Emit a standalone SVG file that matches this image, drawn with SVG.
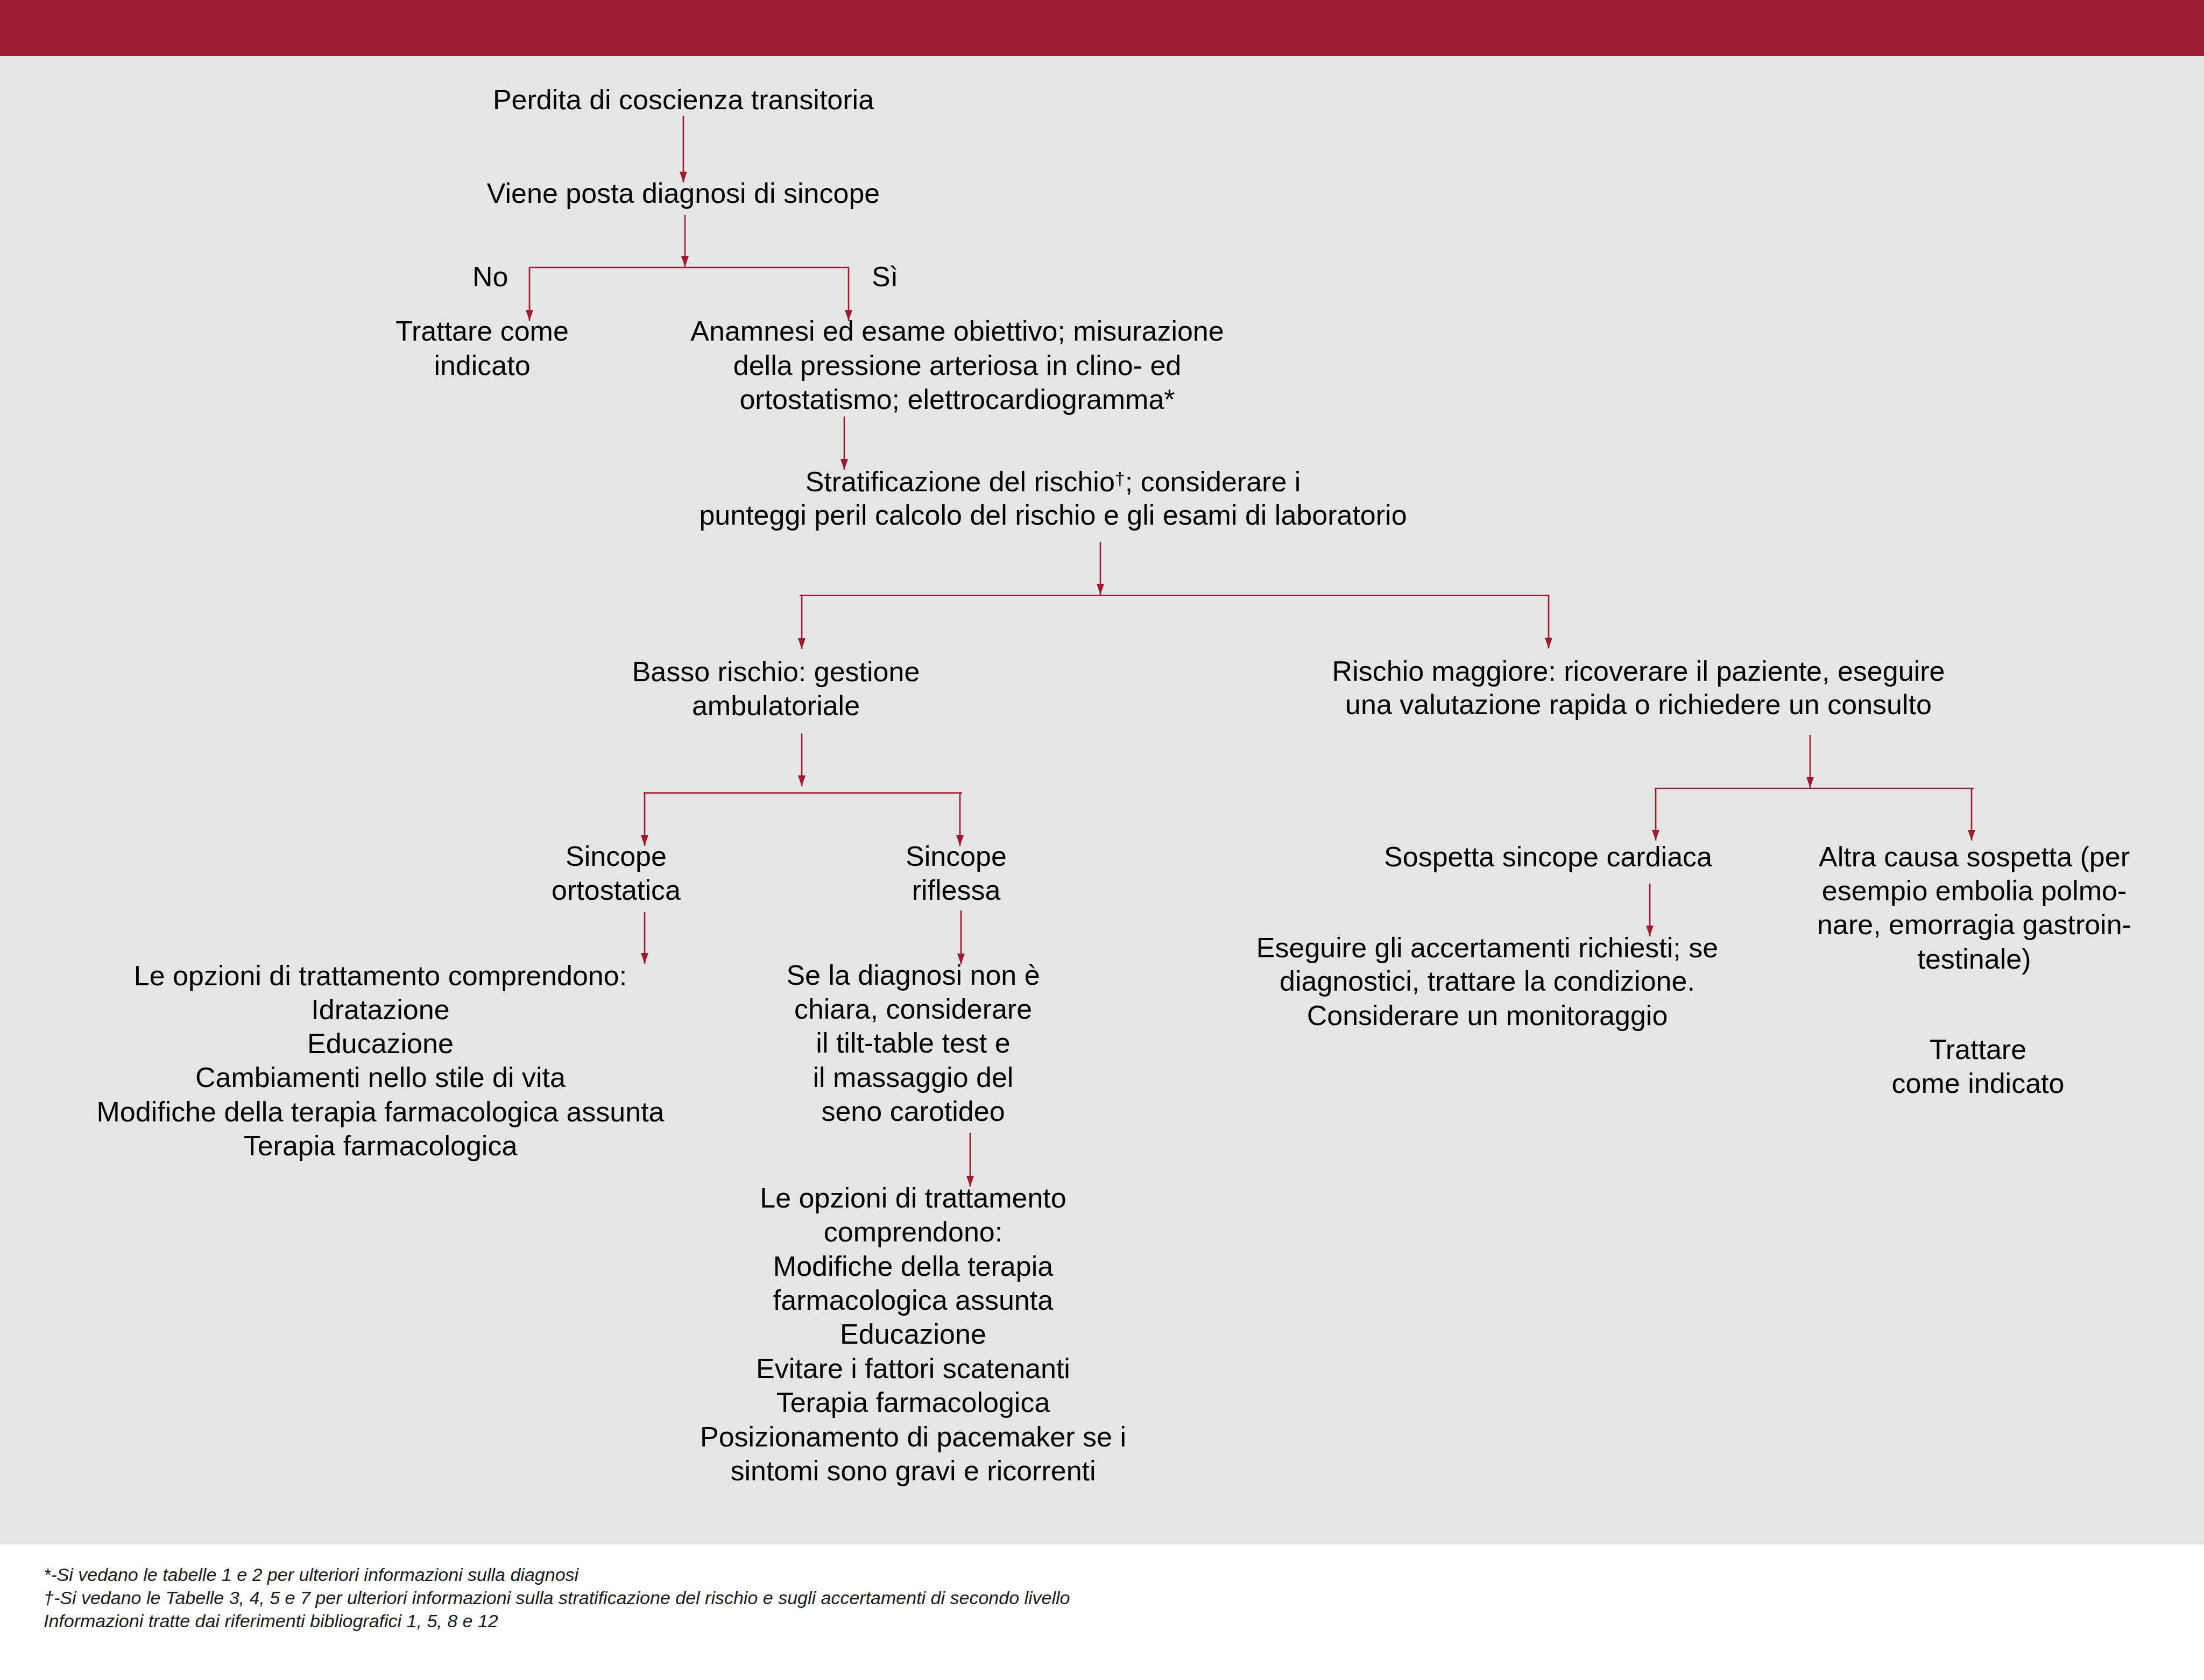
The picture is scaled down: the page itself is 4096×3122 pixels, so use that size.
<svg xmlns="http://www.w3.org/2000/svg" width="4096" height="3122" viewBox="0 0 4096 3122">
<defs>
<marker id="ah" markerUnits="userSpaceOnUse" markerWidth="20" markerHeight="14" viewBox="0 -7 20 14" refX="20" refY="0" orient="auto">
<path d="M0,-7 L20,0 L0,7 z" fill="#9b1c2e"/>
</marker>
<style>
.t{font-family:"Liberation Sans",Arial,sans-serif;font-size:52px;fill:#000;text-anchor:middle}
.ts{font-family:"Liberation Sans",Arial,sans-serif;font-size:52px;fill:#000}
.fn{font-family:"Liberation Sans",Arial,sans-serif;font-size:34px;font-style:italic;fill:#1a1a1a}
.c{stroke:#9b1c2e;stroke-width:2.7;fill:none}
.a{stroke:#9b1c2e;stroke-width:2.7;fill:none;marker-end:url(#ah)}
</style>
</defs>
<rect x="0" y="0" width="4096" height="3122" fill="#ffffff"/>
<rect x="0" y="104" width="4096" height="2766" fill="#e5e5e5"/>
<rect x="0" y="0" width="4096" height="104" fill="#9b1c2e"/>

<g id="connectors">
<line class="a" x1="1270" y1="215" x2="1270" y2="339"/>
<line class="a" x1="1273" y1="400" x2="1273" y2="496"/>
<polyline class="c" points="984,497 1578,497"/>
<line class="a" x1="984" y1="497" x2="984" y2="596"/>
<line class="a" x1="1577" y1="497" x2="1577" y2="596"/>
<line class="a" x1="1569" y1="774" x2="1569" y2="873"/>
<line class="a" x1="2045" y1="1007" x2="2045" y2="1105"/>
<line class="c" x1="1486" y1="1106.5" x2="2879" y2="1106.5"/>
<line class="a" x1="1490" y1="1106.5" x2="1490" y2="1206"/>
<line class="a" x1="2878" y1="1106.5" x2="2878" y2="1205"/>
<line class="a" x1="1490" y1="1363" x2="1490" y2="1461"/>
<line class="c" x1="1196" y1="1473.5" x2="1788" y2="1473.5"/>
<line class="a" x1="1198" y1="1473.5" x2="1198" y2="1572"/>
<line class="a" x1="1784" y1="1473.5" x2="1784" y2="1572"/>
<line class="a" x1="3364" y1="1366" x2="3364" y2="1464"/>
<line class="c" x1="3075" y1="1465" x2="3668" y2="1465"/>
<line class="a" x1="3077" y1="1465" x2="3077" y2="1562"/>
<line class="a" x1="3664" y1="1465" x2="3664" y2="1562"/>
<line class="a" x1="1198" y1="1695" x2="1198" y2="1791"/>
<line class="a" x1="1786" y1="1692" x2="1786" y2="1792"/>
<line class="a" x1="3066" y1="1642" x2="3066" y2="1740"/>
<line class="a" x1="1803" y1="2105" x2="1803" y2="2205"/>
</g>

<g id="n-perdita"><text class="t" x="1270" y="203">Perdita di coscienza transitoria</text></g>
<g id="n-viene"><text class="t" x="1270" y="377">Viene posta diagnosi di sincope</text></g>
<g id="l-no"><text class="ts" x="878" y="532">No</text></g>
<g id="l-si"><text class="ts" x="1620" y="532">Sì</text></g>
<g id="n-trattare1">
<text class="t" x="896" y="633">Trattare come</text>
<text class="t" x="896" y="697">indicato</text>
</g>
<g id="n-anamnesi">
<text class="t" x="1779" y="633">Anamnesi ed esame obiettivo; misurazione</text>
<text class="t" x="1779" y="697">della pressione arteriosa in clino- ed</text>
<text class="t" x="1779" y="760">ortostatismo; elettrocardiogramma*</text>
</g>
<g id="n-strat">
<text class="t" x="1957" y="913">Stratificazione del rischio<tspan font-size="34" baseline-shift="35%">†</tspan>; considerare i</text>
<text class="t" x="1957" y="975">punteggi peril calcolo del rischio e gli esami di laboratorio</text>
</g>
<g id="n-basso">
<text class="t" x="1442" y="1266">Basso rischio: gestione</text>
<text class="t" x="1442" y="1329">ambulatoriale</text>
</g>
<g id="n-rischio">
<text class="t" x="3045" y="1265">Rischio maggiore: ricoverare il paziente, eseguire</text>
<text class="t" x="3045" y="1327">una valutazione rapida o richiedere un consulto</text>
</g>
<g id="n-ortostatica">
<text class="t" x="1145" y="1609">Sincope</text>
<text class="t" x="1145" y="1672">ortostatica</text>
</g>
<g id="n-riflessa">
<text class="t" x="1777" y="1609">Sincope</text>
<text class="t" x="1777" y="1672">riflessa</text>
</g>
<g id="n-cardiaca"><text class="t" x="2877" y="1610">Sospetta sincope cardiaca</text></g>
<g id="n-altra">
<text class="t" x="3669" y="1610">Altra causa sospetta (per</text>
<text class="t" x="3669" y="1673">esempio embolia polmo-</text>
<text class="t" x="3669" y="1736">nare, emorragia gastroin-</text>
<text class="t" x="3669" y="1800">testinale)</text>
</g>
<g id="n-opzioni-orto">
<text class="t" x="707" y="1831">Le opzioni di trattamento comprendono:</text>
<text class="t" x="707" y="1894">Idratazione</text>
<text class="t" x="707" y="1957">Educazione</text>
<text class="t" x="707" y="2020">Cambiamenti nello stile di vita</text>
<text class="t" x="707" y="2084">Modifiche della terapia farmacologica assunta</text>
<text class="t" x="707" y="2147">Terapia farmacologica</text>
</g>
<g id="n-diagnosi">
<text class="t" x="1697" y="1830">Se la diagnosi non è</text>
<text class="t" x="1697" y="1893">chiara, considerare</text>
<text class="t" x="1697" y="1956">il tilt-table test e</text>
<text class="t" x="1697" y="2020">il massaggio del</text>
<text class="t" x="1697" y="2083">seno carotideo</text>
</g>
<g id="n-opzioni-rifl">
<text class="t" x="1697" y="2244">Le opzioni di trattamento</text>
<text class="t" x="1697" y="2307">comprendono:</text>
<text class="t" x="1697" y="2371">Modifiche della terapia</text>
<text class="t" x="1697" y="2434">farmacologica assunta</text>
<text class="t" x="1697" y="2497">Educazione</text>
<text class="t" x="1697" y="2561">Evitare i fattori scatenanti</text>
<text class="t" x="1697" y="2624">Terapia farmacologica</text>
<text class="t" x="1697" y="2688">Posizionamento di pacemaker se i</text>
<text class="t" x="1697" y="2751">sintomi sono gravi e ricorrenti</text>
</g>
<g id="n-eseguire">
<text class="t" x="2764" y="1779">Eseguire gli accertamenti richiesti; se</text>
<text class="t" x="2764" y="1841">diagnostici, trattare la condizione.</text>
<text class="t" x="2764" y="1905">Considerare un monitoraggio</text>
</g>
<g id="n-trattare2">
<text class="t" x="3676" y="1968">Trattare</text>
<text class="t" x="3676" y="2031">come indicato</text>
</g>
<g id="footnotes">
<text class="fn" x="81" y="2938">*-Si vedano le tabelle 1 e 2 per ulteriori informazioni sulla diagnosi</text>
<text class="fn" x="81" y="2981">†-Si vedano le Tabelle 3, 4, 5 e 7 per ulteriori informazioni sulla stratificazione del rischio e sugli accertamenti di secondo livello</text>
<text class="fn" x="81" y="3024">Informazioni tratte dai riferimenti bibliografici 1, 5, 8 e 12</text>
</g>
</svg>
